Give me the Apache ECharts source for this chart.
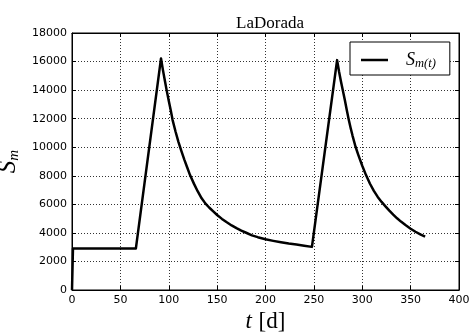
<!DOCTYPE html>
<html>
<head>
<meta charset="utf-8">
<script src="https://cdn.jsdelivr.net/npm/echarts@6/dist/echarts.min.js"></script>
<style>html,body{margin:0;padding:0;background:#fff}#c{width:470px;height:333px}</style>
</head>
<body>
<div id="c"></div>
<script>
// Time in days (t) and storage values S_m(t)
const tDays = [0, 1, 66, 92, 94, 96, 98, 100, 102, 104, 107, 110, 113, 116, 119, 122, 126, 130, 134, 138, 142, 146, 150, 155, 160, 165, 170, 175, 180, 186, 192, 200, 208, 216, 224, 232, 240, 248,
  274, 276, 278, 280, 282, 284, 286, 288, 290, 293, 296, 300, 304, 308, 312, 316, 320, 324, 328, 332, 336, 340, 345, 350, 355, 360, 365];
const smValues = [0, 2900, 2900, 16220, 15400, 14650, 13930, 13250, 12600, 11900, 11100, 10380, 9750, 9150, 8600, 8050, 7450, 6900, 6420, 6050, 5760, 5500, 5250, 4980, 4740, 4520, 4330, 4160, 4010, 3830, 3700, 3550, 3440, 3340, 3250, 3180, 3100, 3020,
  16100, 15300, 14600, 13950, 13300, 12600, 11950, 11350, 10800, 10050, 9450, 8700, 8030, 7440, 6940, 6520, 6170, 5860, 5560, 5280, 5020, 4790, 4530, 4290, 4080, 3900, 3740];
const xTicks = [0, 50, 100, 150, 200, 250, 300, 350, 400];
const yTicks = [0, 2000, 4000, 6000, 8000, 10000, 12000, 14000, 16000, 18000];
const titleText = 'LaDorada';
const seriesName = 'S_m(t)';

const chart = echarts.init(document.getElementById('c'), null, {renderer: 'canvas'});
const serif = 'Liberation Serif';
const sans = 'DejaVu Sans';
const xMin = xTicks[0], xMax = xTicks[xTicks.length - 1], xInt = xTicks[1] - xTicks[0];
const yMin = yTicks[0], yMax = yTicks[yTicks.length - 1], yInt = yTicks[1] - yTicks[0];

const tickStyle = {show: true, inside: true, length: 4, lineStyle: {color: '#000', width: 1}};
const gridLine = {show: true, lineStyle: {color: '#000', width: 1, type: [1, 2], opacity: 0.8}};
const plain = v => String(v);

chart.setOption({
  animation: false,
  backgroundColor: '#fff',
  title: {
    text: titleText,
    left: 265, top: 10, textAlign: 'center',
    textStyle: {fontFamily: serif, fontSize: 17, fontWeight: 'normal', color: '#000'}
  },
  grid: {left: 72, right: 11, top: 33, bottom: 43, containLabel: false, outerBoundsMode: 'none',
    show: true, borderColor: '#000', borderWidth: 1, backgroundColor: 'transparent'},
  legend: {
    show: true,
    left: 350, top: 42,
    padding: [8, 14, 5, 11],
    borderColor: '#000', borderWidth: 1, borderRadius: 0,
    backgroundColor: '#fff',
    icon: 'rect', itemWidth: 27, itemHeight: 2.5,
    formatter: function () { return '{s|S}{sub|m(t)}'; },
    textStyle: {
      padding: [0, 0, 0, 13],
      rich: {
        s: {fontFamily: serif, fontStyle: 'italic', fontSize: 18, color: '#000', lineHeight: 18},
        sub: {fontFamily: serif, fontStyle: 'italic', fontSize: 12.5, color: '#000', padding: [7, 0, 0, 0], lineHeight: 18}
      }
    },
    data: [{name: seriesName, itemStyle: {color: '#000'}}]
  },
  xAxis: [{
    type: 'value', min: xMin, max: xMax, interval: xInt,
    name: '{it|t}  {rm|[d]}', nameLocation: 'middle', nameGap: 20,
    nameTextStyle: {rich: {
      it: {fontFamily: serif, fontStyle: 'italic', fontSize: 23, color: '#000'},
      rm: {fontFamily: serif, fontSize: 23, color: '#000'}
    }},
    axisLine: {show: true, onZero: false, lineStyle: {color: '#000', width: 1}},
    axisTick: tickStyle,
    axisLabel: {color: '#000', fontFamily: sans, fontSize: 11, margin: 5, formatter: plain},
    splitLine: gridLine
  }, {
    type: 'value', min: xMin, max: xMax, interval: xInt, position: 'top',
    axisLine: {show: true, onZero: false, lineStyle: {color: '#000', width: 1}},
    axisTick: tickStyle, axisLabel: {show: false}, splitLine: {show: false}
  }],
  yAxis: [{
    type: 'value', min: yMin, max: yMax, interval: yInt,
    name: '{it|S}{sub|m}', nameLocation: 'middle', nameGap: 38, nameRotate: 90,
    nameTextStyle: {rich: {
      it: {fontFamily: serif, fontStyle: 'italic', fontSize: 25, color: '#000', lineHeight: 25},
      sub: {fontFamily: serif, fontStyle: 'italic', fontSize: 15, color: '#000', padding: [10, 0, 0, 0], lineHeight: 25}
    }},
    axisLine: {show: true, onZero: false, lineStyle: {color: '#000', width: 1}},
    axisTick: tickStyle,
    axisLabel: {color: '#000', fontFamily: sans, fontSize: 11, margin: 5, formatter: plain},
    splitLine: gridLine
  }, {
    type: 'value', min: yMin, max: yMax, interval: yInt, position: 'right',
    axisLine: {show: true, onZero: false, lineStyle: {color: '#000', width: 1}},
    axisTick: tickStyle, axisLabel: {show: false}, splitLine: {show: false}
  }],
  series: [{
    name: seriesName,
    type: 'line',
    xAxisIndex: 0, yAxisIndex: 0,
    data: tDays.map((t, i) => [t, smValues[i]]),
    showSymbol: false, symbol: 'none',
    lineStyle: {color: '#000', width: 2.5, join: 'round', cap: 'butt'},
    itemStyle: {color: '#000'},
    clip: true
  }]
});
</script>
</body>
</html>
